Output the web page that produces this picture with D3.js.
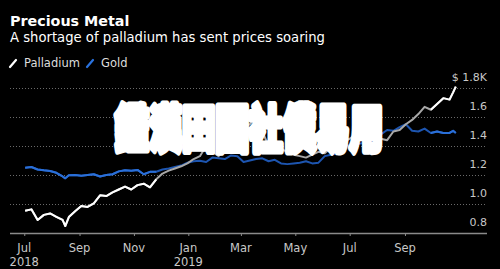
<!DOCTYPE html>
<html>
<head>
<meta charset="utf-8">
<script src="https://cdn.jsdelivr.net/npm/d3@7"></script>
<style>
  html, body { margin: 0; padding: 0; background: #000; }
  svg { display: block; }
</style>
</head>
<body>
<svg id="chart" width="500" height="269"></svg>
<script>
const dates = [
  "2018-07-02","2018-07-09","2018-07-16","2018-07-23","2018-07-30","2018-08-06","2018-08-13","2018-08-16",
  "2018-08-20","2018-08-27","2018-09-03","2018-09-10","2018-09-17","2018-09-24","2018-10-01","2018-10-08",
  "2018-10-15","2018-10-22","2018-10-29","2018-11-05","2018-11-12","2018-11-19","2018-11-26","2018-12-03",
  "2018-12-10","2018-12-17","2018-12-24","2018-12-31","2019-01-07","2019-01-14","2019-01-21","2019-01-28",
  "2019-02-04","2019-02-11","2019-02-18","2019-02-25","2019-03-04","2019-03-11","2019-03-18","2019-03-25",
  "2019-04-01","2019-04-08","2019-04-15","2019-04-22","2019-04-29","2019-05-06","2019-05-13","2019-05-20",
  "2019-05-27","2019-06-03","2019-06-10","2019-06-17","2019-06-24","2019-07-01","2019-07-08","2019-07-15",
  "2019-07-22","2019-07-29","2019-08-05","2019-08-12","2019-08-19","2019-08-26","2019-09-02","2019-09-09",
  "2019-09-16","2019-09-23","2019-09-30","2019-10-07","2019-10-14","2019-10-21","2019-10-25","2019-10-28"
];
const palladium = [
  0.954,0.963,0.89,0.925,0.935,0.912,0.89,0.848,
  0.91,0.95,0.986,0.98,1.005,1.06,1.055,1.08,
  1.10,1.12,1.10,1.13,1.14,1.115,1.17,1.21,
  1.23,1.245,1.26,1.28,1.31,1.33,1.40,1.36,
  1.33,1.38,1.45,1.50,1.53,1.55,1.60,1.50,
  1.40,1.39,1.38,1.36,1.34,1.33,1.32,1.34,
  1.36,1.35,1.39,1.42,1.43,1.45,1.48,1.50,
  1.52,1.50,1.45,1.44,1.50,1.51,1.55,1.58,
  1.62,1.67,1.65,1.69,1.73,1.72,1.77,1.81
];
const gold = [
  1.25,1.255,1.238,1.232,1.228,1.215,1.19,1.177,
  1.198,1.20,1.195,1.20,1.205,1.19,1.20,1.205,
  1.225,1.232,1.23,1.235,1.205,1.222,1.222,1.238,
  1.245,1.255,1.265,1.285,1.295,1.298,1.29,1.32,
  1.315,1.31,1.335,1.33,1.29,1.30,1.31,1.315,
  1.295,1.305,1.28,1.275,1.28,1.285,1.295,1.28,
  1.285,1.33,1.34,1.35,1.41,1.40,1.41,1.42,
  1.425,1.43,1.48,1.51,1.505,1.53,1.55,1.505,
  1.50,1.52,1.49,1.50,1.49,1.49,1.505,1.49
];
const seriesNames = ["Palladium", "Gold"];
const yTicks = [0.8, 1.0, 1.2, 1.4, 1.6, 1.8];
const yTickLabels = ["0.8", "1.0", "1.2", "1.4", "1.6", "$ 1.8K"];
const xTicks = ["2018-07-01","2018-09-01","2018-11-01","2019-01-01","2019-03-01","2019-05-01","2019-07-01","2019-09-01"];
const xTickLabels = ["Jul","Sep","Nov","Jan","Mar","May","Jul","Sep"];
const xYearLabels = ["2018","","","2019","","","",""];
const dimRange = ["2018-11-25","2019-10-03"];
const titleText = "Precious Metal";
const subtitleText = "A shortage of palladium has sent prices soaring";
const watermarkText = "鑑漢田國社僕易用";

const parse = d3.utcParse("%Y-%m-%d");
const svg = d3.select("#chart");

const x = d3.scaleUtc()
  .domain([parse("2018-06-15"), parse("2019-12-02")])
  .range([10, 487]);
const y = d3.scaleLinear().domain([0.8, 1.8]).range([233, 88]);

const font = "'DejaVu Sans', sans-serif";

// title
svg.append("text").attr("x", 10).attr("y", 26)
  .attr("fill", "#fff").attr("font-family", font).attr("font-weight", "bold")
  .attr("font-size", 14.3).text(titleText);
svg.append("text").attr("x", 10).attr("y", 42)
  .attr("fill", "#fff").attr("font-family", font)
  .attr("font-size", 13.2).text(subtitleText);

// legend
const legColors = ["#ffffff", "#2a72de"];
const legX = [10, 87];
seriesNames.forEach((n, i) => {
  svg.append("line")
    .attr("x1", legX[i]).attr("y1", 67).attr("x2", legX[i] + 6).attr("y2", 60)
    .attr("stroke", legColors[i]).attr("stroke-width", 2.2).attr("stroke-linecap", "round");
  svg.append("text").attr("x", legX[i] + 14).attr("y", 67)
    .attr("fill", "#ddd").attr("font-family", font).attr("font-size", 11.5).text(n);
});

// gridlines
svg.append("g").selectAll("line").data(yTicks.filter(v => v > 0.8)).join("line")
  .attr("x1", 10).attr("x2", 487)
  .attr("y1", d => y(d) + 0.5).attr("y2", d => y(d) + 0.5)
  .attr("stroke", "#6a6a6a").attr("stroke-width", 1).attr("stroke-dasharray", "1,2");

// y labels
svg.append("g").selectAll("text").data(yTicks).join("text")
  .attr("x", 487).attr("y", (d) => y(d) - 7)
  .attr("text-anchor", "end")
  .attr("fill", "#c8c8c8").attr("font-family", font).attr("font-size", 11)
  .text((d, i) => yTickLabels[i]);

// x axis
const xAxis = d3.axisBottom(x)
  .tickValues(xTicks.map(parse))
  .tickSize(3)
  .tickFormat("");
const gx = svg.append("g").attr("transform", "translate(0,233)").call(xAxis);
gx.select(".domain").attr("stroke", "#8a8a8a").attr("stroke-width", 1.5).attr("d", "M10,0.5H487");
gx.selectAll(".tick line").attr("stroke", "#8a8a8a");
svg.append("g").selectAll("text").data(xTicks).join("text")
  .attr("x", d => x(parse(d))).attr("y", 252)
  .attr("text-anchor", "middle")
  .attr("fill", "#c8c8c8").attr("font-family", font).attr("font-size", 11.5)
  .text((d, i) => xTickLabels[i]);
svg.append("g").selectAll("text").data(xTicks).join("text")
  .attr("x", d => x(parse(d))).attr("y", 266)
  .attr("text-anchor", "middle")
  .attr("fill", "#c8c8c8").attr("font-family", font).attr("font-size", 11.5)
  .text((d, i) => xYearLabels[i]);

// lines
const pts = (vals) => dates.map((d, i) => ({ date: parse(d), v: vals[i] }));
const line = d3.line().x(d => x(d.date)).y(d => y(d.v));
const d0 = parse(dimRange[0]), d1 = parse(dimRange[1]);
function drawSeries(vals, dimColor, brightColor) {
  const p = pts(vals);
  svg.append("path").datum(p).attr("d", line)
    .attr("fill", "none").attr("stroke", dimColor).attr("stroke-width", 2)
    .attr("stroke-linejoin", "round");
  const idxE = p.findIndex(q => q.date > d0);
  const earlyPts = p.slice(0, idxE + 1);
  const idxL = p.findIndex(q => q.date >= d1);
  const latePts = p.slice(Math.max(0, idxL - 1));
  [earlyPts, latePts].forEach(seg => {
    svg.append("path").datum(seg).attr("d", line)
      .attr("fill", "none").attr("stroke", brightColor).attr("stroke-width", 2)
      .attr("stroke-linejoin", "round");
  });
}
drawSeries(gold, "#1d55b0", "#2a6fd8");
drawSeries(palladium, "#a8a8a8", "#ffffff");

// watermark overlay
svg.append("g").attr("transform", "translate(249,129) scale(1,1.5)")
  .append("text").attr("x", 0).attr("y", 12)
  .attr("text-anchor", "middle")
  .attr("font-family", "'Noto Sans CJK TC', 'Noto Sans CJK SC', sans-serif")
  .attr("font-weight", 900).attr("font-size", 33.5)
  .attr("fill", "#fff").attr("stroke", "#fff").attr("stroke-width", 4.5)
  .attr("stroke-linejoin", "round")
  .text(watermarkText);
</script>
</body>
</html>
